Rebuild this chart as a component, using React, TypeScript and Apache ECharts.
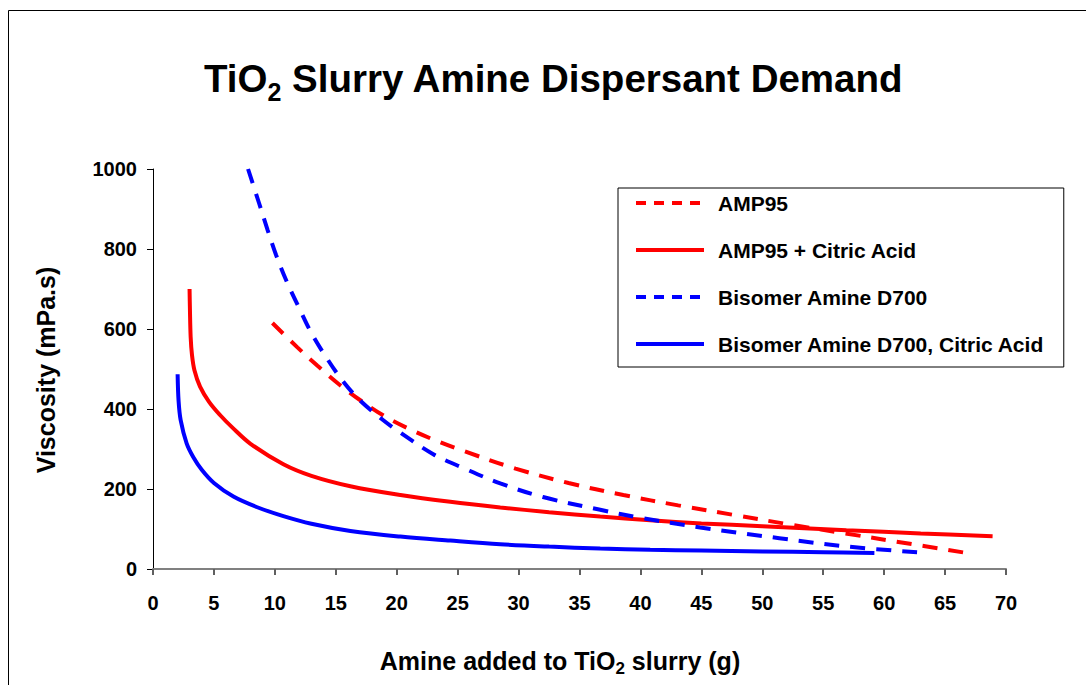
import React, { useEffect, useRef } from "react";
import * as echarts from "echarts";

const FONT = "'Liberation Sans', Arial, sans-serif";

const titleText = "{t|TiO}{sub|2}{t| Slurry Amine Dispersant Demand}";
const xAxisTitle = "{t|Amine added to TiO}{sub|2}{t| slurry (g)}";
const yAxisTitle = "Viscosity (mPa.s)";

const seriesNames = [
  "AMP95",
  "AMP95 + Citric Acid",
  "Bisomer Amine D700",
  "Bisomer Amine D700, Citric Acid",
];

const amp95: [number, number][] = [
  [9.8, 615], [11.85, 554], [13.5, 508], [15.26, 462], [17.1, 420],
  [18.95, 383], [21.1, 349], [23.3, 320], [25.4, 296], [29.75, 251],
  [34.1, 215], [38.6, 185], [43.1, 159], [47.7, 135], [52.3, 111],
  [56.8, 89], [61.3, 67], [66.6, 41],
];

const amp95Citric: [number, number][] = [
  [3.0, 700], [3.03, 650], [3.09, 580], [3.2, 535], [3.4, 497], [3.86, 456],
  [4.6, 418], [5.5, 385], [6.5, 354], [8, 313], [10.7, 262], [13, 233],
  [16.2, 207], [20.3, 185], [24.4, 168], [28.5, 154], [32.5, 142],
  [36.7, 131], [40.8, 122], [45, 114], [50, 107], [56.9, 97], [63, 89],
  [68.9, 82],
];

const bisomer: [number, number][] = [
  [7.8, 1000], [8.7, 915], [9.4, 848], [10.1, 785], [11, 717], [12, 652],
  [13, 590], [14.2, 530], [15.5, 473], [17, 421], [18.9, 372], [20.3, 341],
  [23, 287], [25.5, 252], [28.5, 214], [32, 180], [36.7, 148], [40, 128],
  [44.9, 104], [51.4, 77], [57, 56], [63.1, 41],
];

const bisomerCitric: [number, number][] = [
  [2.02, 487], [2.1, 420], [2.27, 372], [2.76, 314], [3.3, 280], [4.0, 248],
  [5, 215], [6.6, 181], [8.5, 155], [10.7, 132], [13, 113], [16.2, 95],
  [20.3, 81], [24.4, 71], [28.5, 62], [32.5, 56], [36.7, 51], [40.8, 48],
  [45, 46], [50, 44], [55, 42], [59.2, 40],
];

const seriesData = [amp95, amp95Citric, bisomer, bisomerCitric];
const seriesColors = ["#FF0000", "#FF0000", "#0000FF", "#0000FF"];
const seriesDashed = [true, false, true, false];

export default function App() {
  const ref = useRef<HTMLDivElement>(null);

  useEffect(() => {
    const chart = echarts.init(ref.current as HTMLDivElement, null, { renderer: "svg" });
    chart.setOption({
      animation: false,
      backgroundColor: "#ffffff",
      grid: { left: 153, right: 80, top: 169, bottom: 116 },
      xAxis: {
        type: "value",
        min: 0,
        max: 70,
        interval: 5,
        splitLine: { show: false },
        axisLine: { show: true, onZero: false, lineStyle: { color: "#808080", width: 2 } },
        axisTick: { show: true, length: 6, lineStyle: { color: "#606060", width: 2 } },
        axisLabel: { margin: 24, color: "#000", fontSize: 20, fontWeight: "bold", fontFamily: FONT },
      },
      yAxis: {
        type: "value",
        min: 0,
        max: 1000,
        interval: 200,
        splitLine: { show: false },
        axisLine: { show: true, lineStyle: { color: "#000", width: 1 } },
        axisTick: { show: true, length: 6, lineStyle: { color: "#000", width: 1 } },
        axisLabel: {
          margin: 16,
          color: "#000",
          fontSize: 20,
          fontWeight: "bold",
          fontFamily: FONT,
          formatter: (v: number) => String(v),
        },
      },
      legend: {
        orient: "vertical",
        left: 618,
        top: 188,
        backgroundColor: "#fff",
        borderColor: "#000",
        borderWidth: 1,
        borderRadius: 0,
        padding: [4.5, 19, 12.5, 16],
        itemWidth: 68,
        itemHeight: 21,
        itemGap: 26,
        textStyle: {
          fontSize: 21,
          lineHeight: 21,
          fontWeight: "bold",
          color: "#000",
          fontFamily: FONT,
          padding: [0, 0, 0, 9],
        },
        data: seriesNames.map((name, i) => ({
          name,
          itemStyle: { color: "rgba(0,0,0,0)", borderWidth: 0, opacity: 0 },
          lineStyle: {
            color: seriesColors[i],
            width: 4,
            type: seriesDashed[i] ? [10, 8] : "solid",
          },
        })),
      },
      series: seriesNames.map((name, i) => ({
        name,
        type: "line",
        data: seriesData[i],
        symbol: "none",
        showSymbol: false,
        smooth: 0.35,
        color: seriesColors[i],
        lineStyle: {
          color: seriesColors[i],
          width: 4,
          type: seriesDashed[i] ? [15, 11] : "solid",
        },
      })),
      graphic: [
        {
          type: "rect",
          silent: true,
          z: -10,
          shape: { x: 8.5, y: 10.5, width: 1200, height: 800 },
          style: { fill: "none", stroke: "#000", lineWidth: 1 },
        },
        {
          type: "text",
          x: 204,
          y: 59,
          style: {
            text: titleText,
            fontFamily: FONT,
            fontWeight: "bold",
            fontSize: 38.5,
            fill: "#000",
            align: "left",
            verticalAlign: "top",
            rich: {
              t: {
                fontFamily: FONT, fontWeight: "bold", fontSize: 38.5, fill: "#000",
                lineHeight: 40, verticalAlign: "top",
              },
              sub: {
                fontFamily: FONT, fontWeight: "bold", fontSize: 25, fill: "#000",
                lineHeight: 45.5, verticalAlign: "bottom",
              },
            },
          },
        },
        {
          type: "text",
          x: 560,
          y: 648,
          style: {
            text: xAxisTitle,
            fontFamily: FONT,
            fontWeight: "bold",
            fontSize: 25,
            fill: "#000",
            align: "center",
            verticalAlign: "top",
            rich: {
              t: {
                fontFamily: FONT, fontWeight: "bold", fontSize: 25, fill: "#000",
                lineHeight: 26, verticalAlign: "top",
              },
              sub: {
                fontFamily: FONT, fontWeight: "bold", fontSize: 17, fill: "#000",
                lineHeight: 28.5, verticalAlign: "bottom",
              },
            },
          },
        },
        {
          type: "text",
          x: 46,
          y: 370,
          rotation: Math.PI / 2,
          style: {
            text: yAxisTitle,
            fontFamily: FONT,
            fontWeight: "bold",
            fontSize: 25,
            fill: "#000",
            align: "center",
            verticalAlign: "middle",
          },
        },
      ],
    });
    return () => chart.dispose();
  }, []);

  return (
    <div
      ref={ref}
      style={{ position: "fixed", left: 0, top: 0, width: 1086, height: 685, background: "#fff" }}
    />
  );
}
